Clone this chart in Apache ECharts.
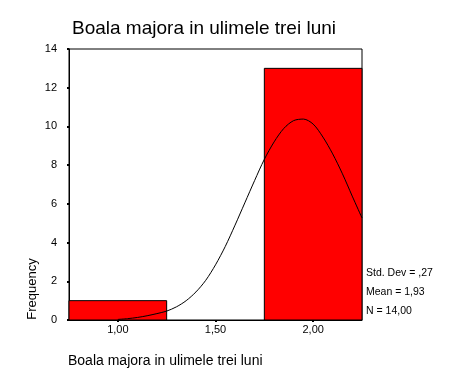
<!DOCTYPE html>
<html><head><meta charset="utf-8">
<script src="https://cdn.jsdelivr.net/npm/echarts@6/dist/echarts.min.js"></script>
<style>html,body{margin:0;padding:0;background:#fff}#c{width:476px;height:381px}</style>
</head><body><div id="c"></div>
<script>
// Histogram bins: [start, end], frequency
var binStart = [0.75, 1.75];
var binEnd = [1.25, 2.25];
var binCount = [1, 13];
// Fitted normal curve
var curveX = [1.00,1.05,1.10,1.15,1.20,1.25,1.30,1.35,1.40,1.45,1.50,1.55,1.60,1.65,1.70,1.75,1.80,1.85,1.90,1.95,2.00,2.05,2.10,2.15,2.20,2.25];
var curveY = [0.03,0.07,0.13,0.22,0.33,0.46,0.68,1.00,1.45,2.05,2.85,3.80,4.90,6.05,7.20,8.30,9.20,9.90,10.30,10.38,10.12,9.45,8.58,7.55,6.40,5.27];
var xTicks = [1.00, 1.50, 2.00];
var yTicks = [0, 2, 4, 6, 8, 10, 12, 14];
var statsLines = ['Std. Dev = ,27', 'Mean = 1,93', 'N = 14,00'];
var titleText = 'Boala majora in ulimele trei luni';
var xName = 'Boala majora in ulimele trei luni';
var yName = 'Frequency';

var FONT = '"Liberation Sans", Arial, sans-serif';
var chart = echarts.init(document.getElementById('c'), null, {renderer: 'canvas'});
var fmt = function (v) { return v.toFixed(2).replace('.', ','); };

var binData = binStart.map(function (s, i) { return [s, binEnd[i], binCount[i]]; });
var curveData = curveX.map(function (x, i) { return [x, curveY[i]]; });

chart.setOption({
  animation: false,
  backgroundColor: '#fff',
  title: {
    text: titleText, left: 67, top: 14,
    textStyle: {fontFamily: FONT, fontSize: 19, fontWeight: 'normal', color: '#000'}
  },
  grid: {left: 69, right: 114, top: 49, bottom: 61, show: true, borderColor: '#000', borderWidth: 1, backgroundColor: 'transparent'},
  xAxis: {
    type: 'value', min: 0.75, max: 2.25, interval: 0.25,
    axisLine: {show: true, lineStyle: {color: '#000', width: 1}},
    axisTick: {show: true, customValues: xTicks, length: 2, inside: false, lineStyle: {color: '#000', width: 2}},
    axisLabel: {customValues: xTicks, formatter: fmt, fontFamily: FONT, fontSize: 11, color: '#000', margin: 4},
    splitLine: {show: false}
  },
  yAxis: {
    type: 'value', min: 0, max: 14, interval: 2,
    axisLine: {show: true, lineStyle: {color: '#000', width: 1}},
    axisTick: {show: true, customValues: yTicks, length: 2, lineStyle: {color: '#000', width: 2}},
    axisLabel: {customValues: yTicks, fontFamily: FONT, fontSize: 11, color: '#000', margin: 12},
    splitLine: {show: false}
  },
  graphic: [
    {type: 'text', left: 68, top: 354, style: {text: xName, font: '14px ' + FONT, fill: '#000'}},
    {type: 'text', x: 26, y: 289, rotation: Math.PI / 2, style: {text: yName, font: '13px ' + FONT, fill: '#000', align: 'center', verticalAlign: 'top'}},
    {type: 'text', left: 366, top: 268, style: {text: statsLines[0], font: '10.5px ' + FONT, fill: '#000'}},
    {type: 'text', left: 366, top: 287, style: {text: statsLines[1], font: '10.5px ' + FONT, fill: '#000'}},
    {type: 'text', left: 366, top: 306, style: {text: statsLines[2], font: '10.5px ' + FONT, fill: '#000'}}
  ],
  series: [
    {
      type: 'custom', data: binData, z: 2,
      renderItem: function (params, api) {
        var p0 = api.coord([api.value(0), api.value(2)]);
        var p1 = api.coord([api.value(1), 0]);
        return {type: 'rect', shape: {x: p0[0], y: p0[1], width: p1[0] - p0[0], height: p1[1] - p0[1]},
          style: {fill: '#ff0000', stroke: '#000', lineWidth: 1}};
      },
      encode: {x: [0, 1], y: 2}
    },
    {
      type: 'line', data: curveData, smooth: 0.3, showSymbol: false, z: 3,
      lineStyle: {color: '#000', width: 1}
    }
  ]
});
</script></body></html>
